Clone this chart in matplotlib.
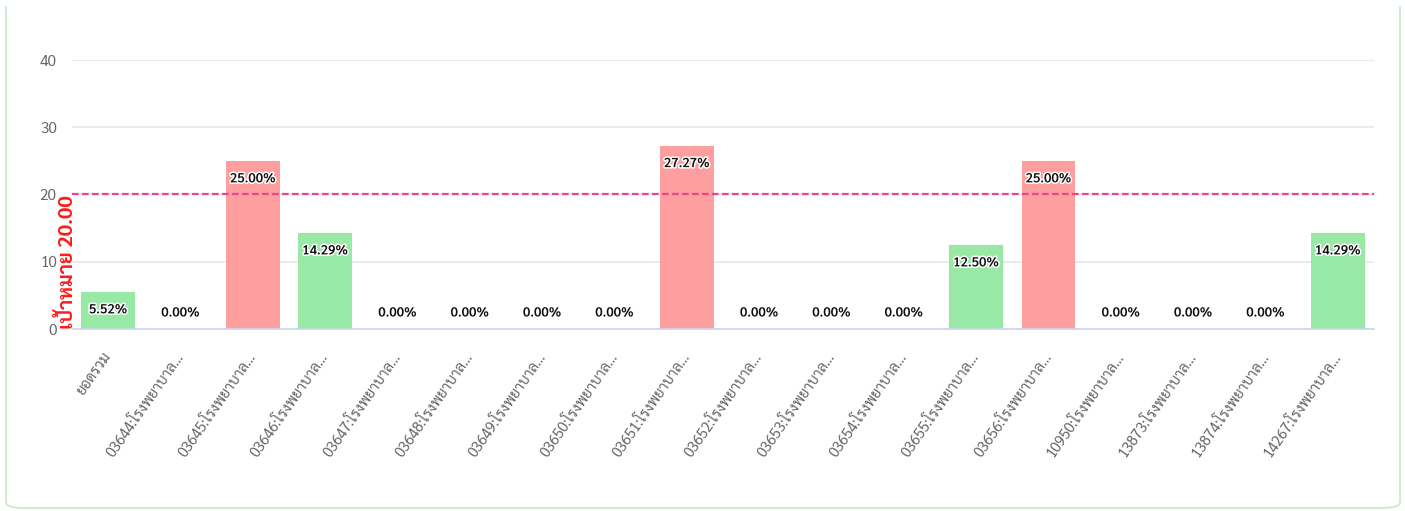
import matplotlib
matplotlib.use("Agg")
import matplotlib.pyplot as plt
import matplotlib.patheffects as pe
from matplotlib.patches import FancyBboxPatch, Rectangle

# hospital units and their rates (%)
units = ["ยอดรวม", "03644:โรงพยาบาล...", "03645:โรงพยาบาล...", "03646:โรงพยาบาล...",
         "03647:โรงพยาบาล...", "03648:โรงพยาบาล...", "03649:โรงพยาบาล...",
         "03650:โรงพยาบาล...", "03651:โรงพยาบาล...", "03652:โรงพยาบาล...",
         "03653:โรงพยาบาล...", "03654:โรงพยาบาล...", "03655:โรงพยาบาล...",
         "03656:โรงพยาบาล...", "10950:โรงพยาบาล...", "13873:โรงพยาบาล...",
         "13874:โรงพยาบาล...", "14267:โรงพยาบาล..."]
rates = [5.52, 0.00, 25.00, 14.29, 0.00, 0.00, 0.00, 0.00, 27.27,
         0.00, 0.00, 0.00, 12.50, 25.00, 0.00, 0.00, 0.00, 14.29]
target = 20.0
yticks = [0, 10, 20, 30, 40]

FONT = ["Sarabun", "DejaVu Sans"]
RED = "#ff9e9e"
GREEN = "#98e8a6"


def _main():
    fig = plt.figure(figsize=(14.05, 5.11), dpi=100)

    # card outline; its top edge sits under the header strip
    card = FancyBboxPatch((6 / 1405, 3 / 511), 1394 / 1405, 1.2,
                          boxstyle="round,pad=0,rounding_size=0.012",
                          transform=fig.transFigure, fill=False,
                          edgecolor="#d3ebd3", linewidth=1.5)
    fig.patches.append(card)
    fig.patches.append(Rectangle((0, 1 - 6 / 511), 1, 6 / 511, transform=fig.transFigure,
                                 facecolor="white", edgecolor="none"))

    ax = fig.add_axes([72 / 1405, 182 / 511, 1302 / 1405, 269 / 511])
    x = range(len(units))
    colors = [RED if r >= target else GREEN for r in rates]
    ax.bar(x, rates, width=0.74, color=colors, zorder=2)

    ax.set_xlim(-0.5, len(units) - 0.5)
    ax.set_ylim(0, 40)
    ax.set_yticks(yticks)
    ax.grid(axis="y", color="#e6e6e6", linewidth=1.2, zorder=0)
    for s in ["top", "right", "left"]:
        ax.spines[s].set_visible(False)
    ax.spines["bottom"].set_color("#ccd6eb")
    ax.spines["bottom"].set_linewidth(1.2)
    ax.tick_params(axis="both", length=0)
    ax.tick_params(axis="y", pad=11, labelsize=11, labelcolor="#666666")
    for t in ax.get_yticklabels():
        t.set_family(FONT)

    ax.set_xticks(list(x))
    ax.set_xticklabels(units, rotation=55, ha="right", va="center",
                       rotation_mode="anchor", fontsize=10.5, color="#666666",
                       family=FONT)
    ax.tick_params(axis="x", pad=18)

    # target line with its label just left of the plot
    ax.axhline(target, color="#e8468c", linestyle=(0, (3, 1.5)), linewidth=1.6, zorder=3)
    ax.text(-0.57, target - 0.1, "เป้าหมาย 20.00", rotation=90, ha="center", va="top",
            color="#ff1a1a", fontsize=14.5, fontweight="bold",
            family=["Sarabun", "DejaVu Sans"], zorder=4, clip_on=False)

    # value labels inside the bar tops
    halo = [pe.withStroke(linewidth=2.2, foreground="white")]
    for i, r in enumerate(rates):
        if r * 269 / 40 > 34:
            y, dy = r, -18
        else:
            y, dy = 0, 16
        ax.annotate("%.2f%%" % r, (i, y), xytext=(0, dy), textcoords="offset pixels",
                    ha="center", va="center", fontsize=9.5, fontweight="semibold",
                    color="#111111", family=FONT, path_effects=halo, zorder=5)

    fig.savefig("out.png", dpi=100)


if __name__ == "__main__":
    _main()
